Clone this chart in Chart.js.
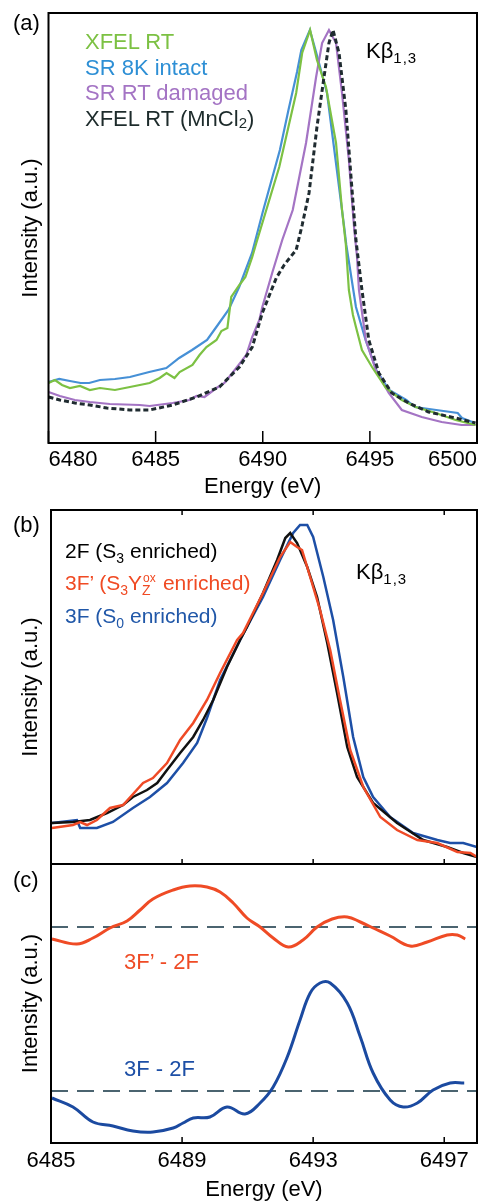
<!DOCTYPE html>
<html>
<head>
<meta charset="utf-8">
<title>Kbeta spectra</title>
<script src="https://cdn.jsdelivr.net/npm/chart.js@4.4.1/dist/chart.umd.min.js"></script>
<style>
body{margin:0;background:#fff;width:482px;height:1203px;overflow:hidden;position:relative;font-family:"Liberation Sans",Arial,sans-serif}
canvas{position:absolute;left:0}
.t{position:absolute;font-size:22px;line-height:22px;white-space:nowrap;z-index:2;color:#000}
.m{font-size:21px;line-height:21px}
.sb{font-size:15px;vertical-align:-5px;line-height:0}
.zx{display:inline-block;position:relative;width:15px;height:0}
.ox{position:absolute;left:1px;top:-18px;font-size:12px;line-height:12px}
.zz{position:absolute;left:0;top:-7px;font-size:14px;line-height:14px}
</style>
</head>
<body>
<canvas id="chartA" width="482" height="505" style="top:0"></canvas>
<canvas id="chartB" width="482" height="366" style="top:500px"></canvas>
<canvas id="chartC" width="482" height="343" style="top:860px"></canvas>

<!-- panel (a) texts -->
<div class="t" style="left:13px;top:12px">(a)</div>
<div class="t" style="left:85px;top:31px;color:#7cc143">XFEL RT</div>
<div class="t" style="left:85px;top:57px;color:#2d8fd5">SR 8K intact</div>
<div class="t" style="left:85px;top:82px;color:#a474c4">SR RT damaged</div>
<div class="t" style="left:85px;top:108px;color:#1d2b2b">XFEL RT (MnCl<span style="font-size:15px;vertical-align:-2px;line-height:0">2</span>)</div>
<div class="t" style="left:366px;top:40px">Kβ<span class="sb" style="letter-spacing:1px">1,3</span></div>

<!-- panel (b) texts -->
<div class="t" style="left:13px;top:514px">(b)</div>
<div class="t m" style="left:65px;top:540px">2F (S<span class="sb" style="font-size:14px">3</span> enriched)</div>
<div class="t m" style="left:65px;top:572px;color:#f04a23">3F’ (S<span class="sb" style="font-size:14px">3</span>Y<span class="zx"><span class="ox">ox</span><span class="zz">Z</span></span> enriched)</div>
<div class="t m" style="left:65px;top:605px;color:#2057a8">3F (S<span class="sb" style="font-size:14px">0</span> enriched)</div>
<div class="t" style="left:356px;top:561px">Kβ<span class="sb" style="letter-spacing:1px">1,3</span></div>

<!-- panel (c) texts -->
<div class="t" style="left:13px;top:869px">(c)</div>
<div class="t" style="left:124px;top:951px;color:#ef4b25">3F’ - 2F</div>
<div class="t" style="left:124px;top:1058px;color:#1d4fa6">3F - 2F</div>

<script>
// tick labels
var ticksA = [6480, 6485, 6490, 6495, 6500];
var ticksBC = [6485, 6489, 6493, 6497];

// (a) XFEL RT
var energyXfel = [6480.0, 6480.3, 6480.63, 6481.0, 6481.47, 6481.93, 6482.4, 6483.1, 6483.8, 6484.72, 6485.19, 6485.51, 6485.88, 6486.12, 6486.72, 6487.05, 6487.37, 6487.84, 6488.07, 6488.35, 6488.53, 6488.91, 6489.19, 6489.51, 6489.7, 6490.77, 6491.56, 6491.84, 6492.21, 6492.53, 6492.95, 6493.42, 6493.7, 6493.88, 6494.02, 6494.21, 6494.35, 6494.63, 6495.1, 6495.75, 6496.49, 6497.14, 6498.07, 6499.0, 6499.93];
var intensityXfel = [60, 63, 58, 55, 57, 53, 55, 53, 56, 60, 65, 70, 65, 71, 78, 88, 96, 103, 112, 115, 146, 158, 166, 186, 200, 276, 350, 390, 413, 383, 356, 300, 233, 198, 153, 128, 116, 93, 76, 55, 43, 36, 30, 23, 18];
// (a) SR 8K intact
var energySr8k = [6480.0, 6480.5, 6481.0, 6481.5, 6481.9, 6482.4, 6483.1, 6483.8, 6484.7, 6485.5, 6486.1, 6486.7, 6487.4, 6487.8, 6488.4, 6488.9, 6489.5, 6490.0, 6490.8, 6491.2, 6491.6, 6491.8, 6492.2, 6492.5, 6493.0, 6493.4, 6493.8, 6493.9, 6494.35, 6494.8, 6495.3, 6495.9, 6496.7, 6497.1, 6498.1, 6499.1, 6499.3, 6499.9];
var intensitySr8k = [61, 64, 62, 60, 60, 63, 64, 66, 71, 75, 85, 93, 103, 115, 133, 156, 190, 231, 293, 333, 371, 393, 413, 390, 350, 283, 216, 198, 136, 103, 73, 53, 43, 36, 33, 30, 25, 20];
// (a) SR RT damaged
var energySrRt = [6480.0, 6480.53, 6481.23, 6481.93, 6482.86, 6484.26, 6484.72, 6485.79, 6486.58, 6486.91, 6487.28, 6487.84, 6488.21, 6488.58, 6488.91, 6489.23, 6489.51, 6489.84, 6489.98, 6490.44, 6490.91, 6491.4, 6492.02, 6492.49, 6492.77, 6493.09, 6493.42, 6493.7, 6494.02, 6494.26, 6494.4, 6494.49, 6494.81, 6495.28, 6495.88, 6496.49, 6497.42, 6498.35, 6499.28, 6499.93];
var intensitySrRt = [51, 47, 43, 41, 39, 38, 37, 40, 43, 47, 46, 55, 60, 70, 79, 88, 106, 123, 136, 170, 203, 233, 300, 366, 400, 413, 400, 350, 283, 216, 186, 153, 103, 73, 50, 33, 26, 21, 18, 18];
// (a) XFEL RT (MnCl2)
var energyMncl2 = [6480.0, 6480.53, 6481.23, 6481.93, 6482.72, 6483.79, 6484.72, 6485.79, 6486.91, 6487.98, 6488.91, 6489.51, 6489.98, 6490.63, 6491.0, 6491.33, 6491.56, 6491.84, 6492.16, 6492.53, 6492.86, 6493.09, 6493.28, 6493.56, 6493.88, 6494.12, 6494.35, 6494.63, 6494.95, 6495.42, 6496.02, 6496.81, 6497.74, 6499.0, 6499.93];
var intensityMncl2 = [46, 43, 40, 38, 35, 33, 33, 38, 46, 56, 76, 96, 130, 165, 178, 187, 193, 218, 250, 316, 366, 400, 413, 390, 333, 266, 203, 153, 103, 70, 50, 40, 31, 25, 20];

// (b) 2F (S3 enriched)
var energy2F = [6485.03, 6485.67, 6486.19, 6486.71, 6487.2, 6487.5, 6487.93, 6488.24, 6488.54, 6488.94, 6489.34, 6489.64, 6489.95, 6490.37, 6490.77, 6490.98, 6491.47, 6491.9, 6492.15, 6492.3, 6492.51, 6492.82, 6493.12, 6493.43, 6493.73, 6494.04, 6494.34, 6494.83, 6495.56, 6496.36, 6497.09, 6497.58, 6498.0];
var intensity2F = [41, 42, 44, 51, 59, 67, 74, 81, 94, 111, 127, 144, 164, 197, 224, 237, 271, 304, 326, 331, 321, 297, 267, 221, 171, 117, 87, 61, 41, 24, 17, 11, 7];
// (b) 3F' (S3Yz-ox enriched)
var energy3Fp = [6485.03, 6485.67, 6485.89, 6486.1, 6486.4, 6486.8, 6487.2, 6487.81, 6488.11, 6488.54, 6488.94, 6489.34, 6489.76, 6490.16, 6490.68, 6490.86, 6491.47, 6491.99, 6492.3, 6492.51, 6492.66, 6492.91, 6493.21, 6493.52, 6493.82, 6494.13, 6494.53, 6495.05, 6495.56, 6496.18, 6496.79, 6497.4, 6497.8, 6498.0];
var intensity3Fp = [36, 39, 42, 39, 44, 56, 59, 81, 86, 101, 124, 141, 164, 191, 224, 231, 271, 307, 322, 317, 314, 287, 254, 214, 164, 114, 77, 47, 34, 24, 21, 12, 11, 7];
// (b) 3F (S0 enriched)
var energy3F = [6485.03, 6485.79, 6485.89, 6486.4, 6486.89, 6487.5, 6488.02, 6488.54, 6489.03, 6489.46, 6489.76, 6490.16, 6490.77, 6491.47, 6491.99, 6492.39, 6492.6, 6492.82, 6493.0, 6493.31, 6493.61, 6493.92, 6494.22, 6494.53, 6494.83, 6495.35, 6496.05, 6496.79, 6497.18, 6497.58, 6498.0];
var intensity3F = [41, 44, 36, 36, 42, 56, 67, 81, 101, 121, 146, 184, 224, 267, 304, 331, 339, 339, 327, 287, 244, 187, 127, 87, 67, 47, 31, 24, 21, 21, 17];

// (c) difference spectra
var energyDiff3Fp = [6485.03, 6485.79, 6486.28, 6486.8, 6487.32, 6487.72, 6488.11, 6488.73, 6489.24, 6489.76, 6490.16, 6490.56, 6490.98, 6491.38, 6491.78, 6492.24, 6492.69, 6493.12, 6493.58, 6494.04, 6494.44, 6494.83, 6495.35, 6495.96, 6496.48, 6497.09, 6497.4, 6497.64];
var diff3Fp = [204, 199, 205, 215, 222, 233, 244, 253, 257, 256, 251, 240, 225, 216, 205, 196, 203, 216, 224, 226, 221, 215, 207, 197, 201, 208, 208, 204];
var energyDiff3F = [6485.03, 6485.67, 6486.28, 6486.89, 6487.5, 6488.11, 6488.73, 6489.03, 6489.34, 6489.85, 6490.37, 6490.92, 6491.38, 6491.78, 6492.21, 6492.6, 6492.91, 6493.21, 6493.52, 6494.04, 6494.44, 6494.83, 6495.35, 6495.75, 6496.18, 6496.66, 6497.18, 6497.61];
var diff3F = [45, 36, 21, 17, 12, 11, 15, 20, 25, 26, 36, 29, 40, 56, 86, 123, 150, 160, 160, 140, 106, 70, 43, 36, 40, 53, 60, 60];
var baselineDiff3Fp = 216;
var baselineDiff3F = 52;

var fontFamily = '"Liberation Sans", Arial, sans-serif';
Chart.defaults.font.family = fontFamily;

//pair energies with intensities
function points(xs, ys){
	return xs.map(function(x, i){ return {x: x, y: ys[i]}; });
}

//box around the plot + inward tick marks
function makeFrame(ticks, topLen, bottomLen){
	return {
		id: 'frame',
		afterDatasetsDraw: function(chart){
			var ctx = chart.ctx;
			var area = chart.chartArea;
			var xs = chart.scales.x;
			ctx.save();
			ctx.strokeStyle = '#000';
			ctx.lineWidth = 2;
			ctx.strokeRect(area.left, area.top, area.right - area.left, area.bottom - area.top);
			ctx.lineWidth = 1.5;
			ctx.beginPath();
			ticks.forEach(function(v){
				var px = xs.getPixelForValue(v);
				if(bottomLen){ ctx.moveTo(px, area.bottom); ctx.lineTo(px, area.bottom - bottomLen); }
				if(topLen){ ctx.moveTo(px, area.top); ctx.lineTo(px, area.top + topLen); }
			});
			ctx.stroke();
			ctx.restore();
		}
	};
}

function spectrumChart(id, o){
	return new Chart(document.getElementById(id), {
		type: 'line',
		data: { datasets: o.datasets },
		options: {
			responsive: false,
			animation: false,
			devicePixelRatio: 1,
			layout: { padding: o.padding },
			plugins: { legend: { display: false }, tooltip: { enabled: false } },
			elements: { point: { radius: 0 } },
			scales: {
				x: {
					type: 'linear',
					min: o.xMin,
					max: o.xMax,
					display: o.showX,
					afterBuildTicks: function(s){ s.ticks = o.ticks.map(function(v){ return {value: v}; }); },
					afterFit: function(s){ s.height = o.xHeight; s.paddingLeft = 0; s.paddingRight = 0; },
					grid: { display: false, drawTicks: false },
					border: { display: false },
					ticks: { color: '#000', font: { size: 22 }, padding: o.labelPad, maxRotation: 0, autoSkip: false,
						align: o.tickAlign || 'center',
						callback: function(v){ return String(v); } },
					title: { display: true, text: 'Energy (eV)', color: '#000', font: { size: 22 },
						padding: { top: 0, bottom: o.titlePad } }
				},
				y: {
					min: 0,
					max: o.yMax,
					afterFit: function(s){ s.width = o.yWidth; },
					grid: { display: false },
					border: { display: false },
					ticks: { display: false },
					title: { display: true, text: 'Intensity (a.u.)', color: '#000', font: { size: 22 },
						padding: { top: 18, bottom: 0 } }
				}
			}
		},
		plugins: [makeFrame(o.ticks, o.tickTop, o.tickBottom)]
	});
}

function line(data, color, width, dash, tension){
	return { data: data, borderColor: color, borderWidth: width, borderDash: dash || [], tension: tension || 0, fill: false, pointRadius: 0 };
}

// panel (a)
spectrumChart('chartA', {
	datasets: [
		line(points(energyMncl2, intensityMncl2), '#1f2b30', 3, [5, 3]),
		line(points(energyXfel, intensityXfel), '#7cc143', 2.2),
		line(points(energySrRt, intensitySrRt), '#a474c4', 2.2),
		line(points(energySr8k, intensitySr8k), '#4690d6', 2.2)
	],
	xMin: 6480, xMax: 6500, yMax: 430, ticks: ticksA, showX: true, tickAlign: 'inner',
	padding: { top: 13, right: 5, bottom: 0, left: 0 },
	xHeight: 62, yWidth: 48.5, labelPad: 4, titlePad: 5,
	tickTop: 0, tickBottom: 12
});

// panel (b)
spectrumChart('chartB', {
	datasets: [
		line(points(energy3Fp, intensity3Fp), '#ef4a26', 2.5),
		line(points(energy2F, intensity2F), '#111111', 2.5),
		line(points(energy3F, intensity3F), '#1d4fa6', 2.5)
	],
	xMin: 6485, xMax: 6498, yMax: 354, ticks: ticksBC, showX: false,
	padding: { top: 10, right: 5, bottom: 2, left: 0 },
	xHeight: 0, yWidth: 51, labelPad: 4, titlePad: 0,
	tickTop: 5, tickBottom: 5
});

// panel (c)
spectrumChart('chartC', {
	datasets: [
		line(points(energyDiff3Fp, diff3Fp), '#ef4b25', 3, null, 0.4),
		line(points(energyDiff3F, diff3F), '#1b4aa0', 3, null, 0.4),
		line(points([6485, 6498], [baselineDiff3Fp, baselineDiff3Fp]), '#4b6470', 2, [17, 9]),
		line(points([6485, 6498], [baselineDiff3F, baselineDiff3F]), '#4b6470', 2, [17, 9])
	],
	xMin: 6485, xMax: 6498, yMax: 279, ticks: ticksBC, showX: true,
	padding: { top: 4, right: 5, bottom: 0, left: 0 },
	xHeight: 60, yWidth: 51, labelPad: 5, titlePad: 0,
	tickTop: 0, tickBottom: 6
});
</script>
</body>
</html>
